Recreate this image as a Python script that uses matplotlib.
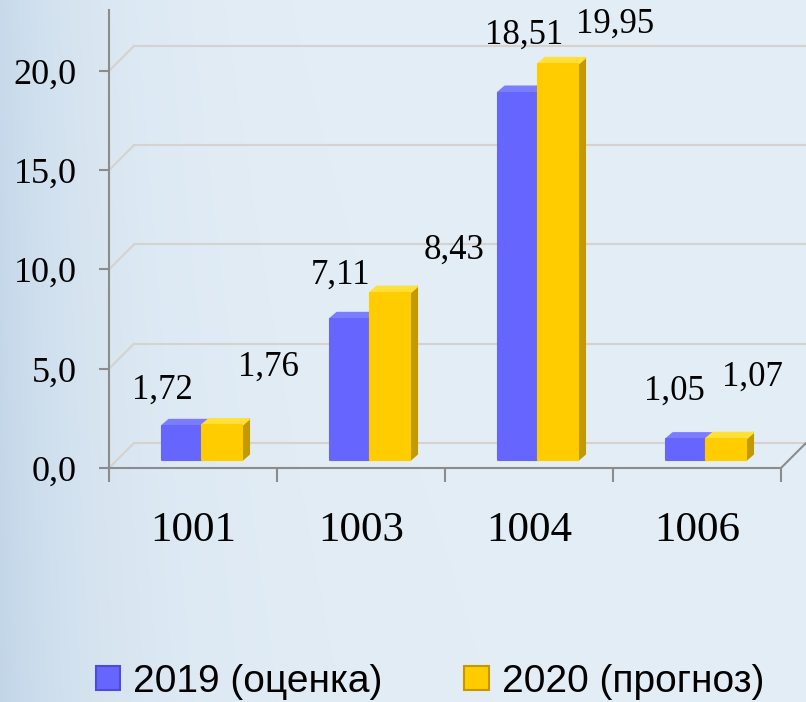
import numpy as np
import matplotlib.pyplot as plt
from matplotlib.patches import Polygon, Patch

categories = ['1001', '1003', '1004', '1006']
values_2019 = [1.72, 7.11, 18.51, 1.05]
values_2020 = [1.76, 8.43, 19.95, 1.07]
series_names = ['2019 (оценка)', '2020 (прогноз)']
y_ticks = [0, 5, 10, 15, 20]

# style
front_cols = ['#6666FF', '#FFCC00']
top_cols = ['#7C7CFF', '#FFE03A']
side_cols = ['#4C4CD6', '#C29A00']
grid_col = '#D6D2CE'
axis_col = '#8C8C8C'
serif = 'Liberation Serif'
# label offsets from bar top centre, pixels (x right, y up)
label_offsets = [[(-20, 36), (-9, 44), (6, 57), (-12, 48)],
                 [(46, 58), (64, 42), (57, 40), (26, 62)]]

W, H = 806, 702
fig = plt.figure(figsize=(W / 100, H / 100), dpi=100)

# soft blue background, darker on the left edge
bg = fig.add_axes([0, 0, 1, 1], zorder=-10)
xx, yy = np.meshgrid(np.linspace(0, 1, 400), np.linspace(0, 1, 350))
t = 0.75 * np.exp(-xx / 0.12) + 0.15 * yy * np.exp(-xx / 0.4)
t = np.clip(t, 0, 1)[..., None]
light = np.array([228, 238, 246]) / 255
dark = np.array([190, 211, 231]) / 255
bg.imshow(light * (1 - t) + dark * t, aspect='auto', extent=[0, 1, 0, 1])
bg.axis('off')

ax = fig.add_axes([109 / W, 234 / H, 672 / W, 458 / H])
ax.set_xlim(-0.5, 3.5)
ax.set_ylim(0, 23.07)
ax.patch.set_alpha(0)


def px(dx, dy):
    # pixel offset -> data offset
    p0 = ax.transData.transform((0, 0))
    return ax.transData.inverted().transform(p0 + np.array([dx, dy]))


back_dx, back_dy = px(25, 25)
plane_dx, plane_dy = px(9, 8)
depth_dx, depth_dy = px(7, 6)
bar_w = px(40, 0)[0]

# back wall gridlines + left wall diagonals
for v in y_ticks:
    ax.plot([-0.5, -0.5 + back_dx], [v, v + back_dy], color=grid_col, lw=1.5,
            clip_on=False, zorder=1)
    ax.plot([-0.5 + back_dx, 3.5 + back_dx], [v + back_dy] * 2, color=grid_col,
            lw=1.5, clip_on=False, zorder=1)
# floor right edge
ax.plot([3.5, 3.5 + back_dx], [0, back_dy], color=axis_col, lw=1.5,
        clip_on=False, zorder=1)

# 3D-looking bars
for s, vals in enumerate([values_2019, values_2020]):
    for i, v in enumerate(vals):
        x0 = i + plane_dx - bar_w + s * bar_w
        x1 = x0 + bar_w
        y0 = plane_dy
        y1 = plane_dy + v
        side = [(x1, y0), (x1 + depth_dx, y0 + depth_dy),
                (x1 + depth_dx, y1 + depth_dy), (x1, y1)]
        top = [(x0, y1), (x0 + depth_dx, y1 + depth_dy),
               (x1 + depth_dx, y1 + depth_dy), (x1, y1)]
        front = [(x0, y0), (x1, y0), (x1, y1), (x0, y1)]
        for pts, c in [(side, side_cols[s]), (top, top_cols[s]),
                       (front, front_cols[s])]:
            ax.add_patch(Polygon(pts, closed=True, facecolor=c, edgecolor=c,
                                 lw=1.5, joinstyle='round', clip_on=False,
                                 zorder=3 + s))
        dx, dy = label_offsets[s][i]
        ax.annotate(f'{v:.2f}'.replace('.', ','), ((x0 + x1) / 2, y1),
                    xytext=(dx, dy), textcoords='offset pixels',
                    ha='center', va='center', fontsize=25, family=serif,
                    annotation_clip=False, zorder=6)

# axes
for sp in ['top', 'right']:
    ax.spines[sp].set_visible(False)
for sp in ['left', 'bottom']:
    ax.spines[sp].set_color(axis_col)
    ax.spines[sp].set_linewidth(1.5)

ax.set_yticks(y_ticks, labels=[f'{v:.1f}'.replace('.', ',') for v in y_ticks])
ax.tick_params(axis='y', length=7.2, width=1.5, color=axis_col, pad=16,
               labelsize=26)
ax.set_xticks(np.arange(-0.5, 4, 1), labels=[''] * 5)
ax.tick_params(axis='x', which='major', length=10, width=1.5, color=axis_col)
ax.set_xticks(range(len(categories)), labels=categories, minor=True)
ax.tick_params(axis='x', which='minor', length=0, pad=31, labelsize=31)
for lab in ax.get_yticklabels() + ax.get_xticklabels(minor=True):
    lab.set_family(serif)

handles = [Patch(facecolor=front_cols[k], edgecolor=side_cols[k], lw=1.5)
           for k in range(2)]
fig.legend(handles, series_names, loc='center', bbox_to_anchor=(430 / W, 1 - 682 / H),
           ncol=2, frameon=False, prop={'family': 'Liberation Sans', 'size': 28},
           handlelength=0.64, handleheight=0.57, handletextpad=0.33,
           columnspacing=2.1, borderpad=0)

fig.savefig('out.png', dpi=100)
